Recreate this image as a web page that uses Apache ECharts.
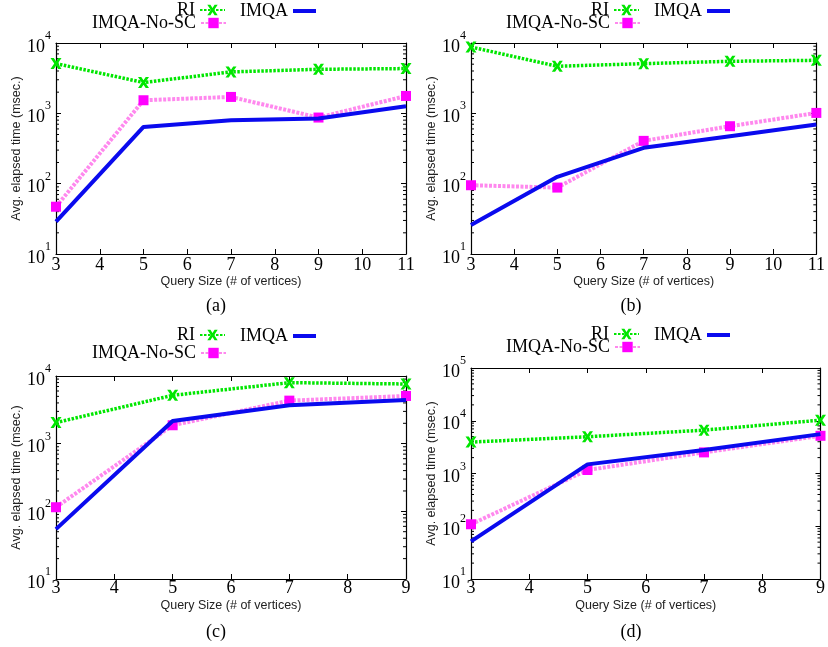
<!DOCTYPE html>
<html>
<head>
<meta charset="utf-8">
<script src="https://cdn.jsdelivr.net/npm/echarts@6/dist/echarts.min.js"></script>
<style>
html,body{margin:0;padding:0;background:#fff;}
#chart{width:828px;height:647px;}
</style>
</head>
<body>
<div id="chart"></div>
<script>
// ---- data ----
const xAB = [3, 5, 7, 9, 11];
const xCD = [3, 5, 7, 9];

const riA   = [5100, 2740, 3880, 4230, 4330];
const imqaA = [28.8, 641, 798, 843, 1262];
const noscA = [47, 1535, 1711, 871, 1766];

const riB   = [8770, 4665, 5090, 5495, 5675];
const imqaB = [25.8, 125, 323, 473, 693];
const noscB = [95, 88, 406, 656, 1014];

const riC   = [2048, 5185, 7975, 7620];
const imqaC = [54.6, 2168, 3690, 4425];
const noscC = [115, 1871, 4325, 5070];

const riD   = [3940, 4970, 6640, 10260];
const imqaD = [51.5, 1490, 2780, 5575];
const noscD = [109, 1164, 2512, 5185];

const seriesNames = ['RI', 'IMQA', 'IMQA-No-SC'];
const captions = ['(a)', '(b)', '(c)', '(d)'];
const xTitle = 'Query Size (# of vertices)';
const yTitle = 'Avg. elapsed time (msec.)';
const minorMultipliers = [2, 3, 4, 5, 6, 7, 8, 9];

// ---- layout / style ----
const serif = "'Liberation Serif', 'DejaVu Serif', serif";
const sans = "'Liberation Sans', Arial, sans-serif";
const panels = [
  { xs: xAB, ri: riA, imqa: imqaA, nosc: noscA, xmin: 3, xmax: 11, ymax: 1e4,
    grid: { left: 56, top: 43, width: 350, height: 211 }, ox: 0, r1: 1, r2: 14, cap: [216, 306], xlm: 2 },
  { xs: xAB, ri: riB, imqa: imqaB, nosc: noscB, xmin: 3, xmax: 11, ymax: 1e4,
    grid: { left: 471, top: 43, width: 350, height: 211 }, ox: 414, r1: 1, r2: 14, cap: [631, 306], xlm: 2 },
  { xs: xCD, ri: riC, imqa: imqaC, nosc: noscC, xmin: 3, xmax: 9, ymax: 1e4,
    grid: { left: 56, top: 376, width: 350, height: 203 }, ox: 0, r1: 326, r2: 344, cap: [216, 632], xlm: 0 },
  { xs: xCD, ri: riD, imqa: imqaD, nosc: noscD, xmin: 3, xmax: 9, ymax: 1e5,
    grid: { left: 471, top: 368, width: 350, height: 211 }, ox: 414, r1: 325, r2: 338, cap: [631, 632], xlm: 0 }
];

const GREEN = '#00e600', BLUE = '#0a0aee', PINK = '#ff88ee', MAGENTA = '#ff00ff';
const xPath = 'path://M0,0 L3,0 L5,3 L7,0 L10,0 L6.6,5 L10,10 L7,10 L5,7 L3,10 L0,10 L3.4,5 Z';

const grids = [], xAxes = [], yAxes = [], series = [], legends = [], graphics = [];
const axisLine = { show: true, lineStyle: { color: '#000', width: 1.2 } };

panels.forEach((p, i) => {
  grids.push(Object.assign({ containLabel: false }, p.grid));
  xAxes.push({
    gridIndex: i, type: 'value', min: p.xmin, max: p.xmax, interval: 1,
    axisLine, splitLine: { show: false },
    axisTick: { inside: true, length: 5, lineStyle: { color: '#000' } },
    axisLabel: { color: '#000', fontFamily: serif, fontSize: 18, margin: p.xlm },
    name: xTitle, nameLocation: 'middle', nameGap: 20,
    nameTextStyle: { fontFamily: sans, fontSize: 12.5, color: '#222' }
  });
  xAxes.push({
    gridIndex: i, type: 'value', position: 'top', min: p.xmin, max: p.xmax, interval: 1,
    axisLine, splitLine: { show: false },
    axisTick: { inside: true, length: 5, lineStyle: { color: '#000' } },
    axisLabel: { show: false }
  });
  yAxes.push({
    gridIndex: i, type: 'log', logBase: 10, min: 10, max: p.ymax,
    axisLine, splitLine: { show: false },
    axisTick: { inside: true, length: 5, lineStyle: { color: '#000' } },
    axisLabel: {
      margin: 5,
      formatter: v => '{b|10}{s|' + Math.round(Math.log10(v)) + '}',
      rich: {
        b: { fontFamily: serif, fontSize: 18, color: '#000', verticalAlign: 'bottom', lineHeight: 26 },
        s: { fontFamily: serif, fontSize: 12, color: '#000', verticalAlign: 'top', lineHeight: 26 }
      }
    },
    name: yTitle, nameLocation: 'middle', nameGap: 31, nameRotate: 90,
    nameTextStyle: { fontFamily: sans, fontSize: 12.5, color: '#222' }
  });
  yAxes.push({
    gridIndex: i, type: 'log', logBase: 10, min: 10, max: p.ymax, position: 'right',
    axisLine, splitLine: { show: false },
    axisTick: { inside: true, length: 5, lineStyle: { color: '#000' } },
    axisLabel: { show: false }
  });

  const xi = 2 * i, yi = 2 * i;

  // minor log ticks (2..9 within each decade), placed through the y scale
  const minorVals = [];
  for (let e = 1; Math.pow(10, e) < p.ymax; e++) {
    minorMultipliers.forEach(m => minorVals.push([p.xmin, m * Math.pow(10, e)]));
  }
  series.push({
    type: 'custom', xAxisIndex: xi, yAxisIndex: yi, z: 1, silent: true,
    data: minorVals, encode: { x: 0, y: 1 },
    renderItem: (params, api) => {
      const pt = api.coord([api.value(0), api.value(1)]);
      const cs = params.coordSys;
      const y = pt[1];
      return {
        type: 'group',
        children: [
          { type: 'line', shape: { x1: cs.x, y1: y, x2: cs.x + 3, y2: y }, style: { stroke: '#000', lineWidth: 1 } },
          { type: 'line', shape: { x1: cs.x + cs.width - 3, y1: y, x2: cs.x + cs.width, y2: y }, style: { stroke: '#000', lineWidth: 1 } }
        ]
      };
    },
    animation: false
  });

  series.push({
    name: 'RI', type: 'line', xAxisIndex: xi, yAxisIndex: yi, z: 3,
    data: p.xs.map((x, k) => [x, p.ri[k]]),
    lineStyle: { color: GREEN, width: 3.5, type: [2.5, 1.5] },
    itemStyle: { color: GREEN },
    symbol: xPath, symbolSize: 11, showAllSymbol: true, animation: false
  });
  series.push({
    name: 'IMQA-No-SC', type: 'line', xAxisIndex: xi, yAxisIndex: yi, z: 4,
    data: p.xs.map((x, k) => [x, p.nosc[k]]),
    lineStyle: { color: PINK, width: 4, type: [3, 1.5] },
    itemStyle: { color: MAGENTA },
    symbol: 'rect', symbolSize: 10, showAllSymbol: true, animation: false
  });
  series.push({
    name: 'IMQA', type: 'line', xAxisIndex: xi, yAxisIndex: yi, z: 5,
    data: p.xs.map((x, k) => [x, p.imqa[k]]),
    lineStyle: { color: BLUE, width: 4 },
    itemStyle: { color: BLUE },
    symbol: 'none', animation: false
  });

  const legBase = {
    orient: 'horizontal', align: 'right', padding: 0, itemWidth: 25, itemHeight: 13,
    selectedMode: false, textStyle: { fontFamily: serif, fontSize: 18, color: '#000' }
  };
  legends.push(Object.assign({}, legBase, { data: ['RI'], right: 828 - (p.ox + 226), top: p.r1 }));
  legends.push(Object.assign({}, legBase, {
    data: [{ name: 'IMQA', icon: 'rect' }], itemHeight: 4, itemWidth: 23,
    left: p.ox + 240, top: p.r1 + 1
  }));
  legends.push(Object.assign({}, legBase, { data: ['IMQA-No-SC'], right: 828 - (p.ox + 227), top: p.r2 }));

  graphics.push({
    type: 'text', x: p.cap[0], y: p.cap[1],
    style: { text: captions[i], font: '18px ' + serif, fill: '#000', textAlign: 'center', textVerticalAlign: 'middle' }
  });
});

const chart = echarts.init(document.getElementById('chart'), null, { renderer: 'canvas' });
chart.setOption({
  backgroundColor: '#fff',
  animation: false,
  grid: grids,
  xAxis: xAxes,
  yAxis: yAxes,
  legend: legends,
  series: series,
  graphic: graphics
});
</script>
</body>
</html>
